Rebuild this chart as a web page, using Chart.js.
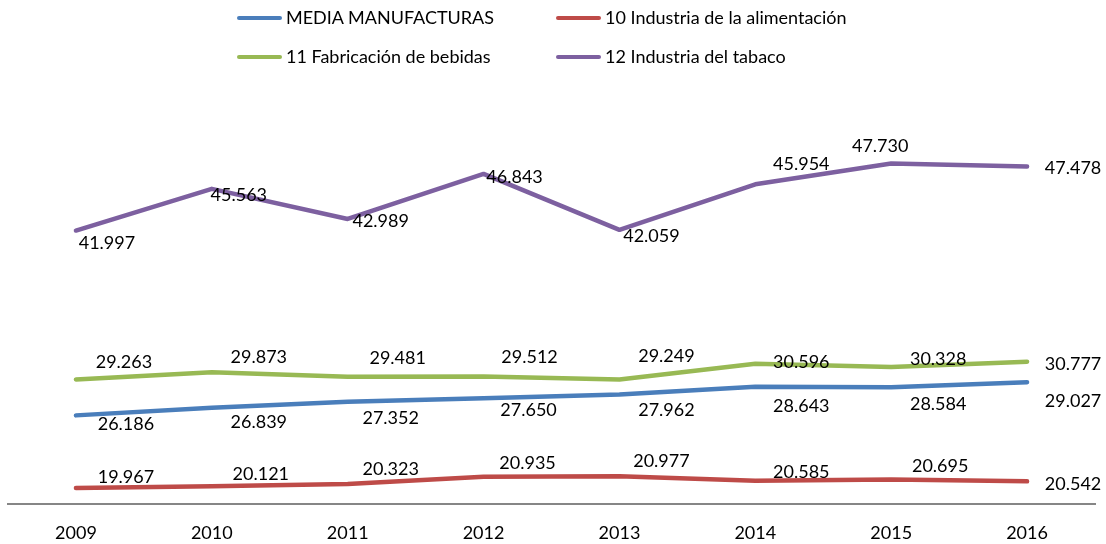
<!DOCTYPE html>
<html>
<head>
<meta charset="utf-8">
<script src="https://cdn.jsdelivr.net/npm/chart.js@4.4.0/dist/chart.umd.min.js"></script>
<style>
  html, body { margin: 0; padding: 0; background: #fff; }
  #wrap { position: relative; width: 1106px; height: 544px; font-family: Lato, "Open Sans", sans-serif; }
  #chart { position: absolute; left: 0; top: 0; }
  .leg { position: absolute; font-size: 18px; color: #000; white-space: nowrap; line-height: 20px; }
  .leg i { position: absolute; left: 0; top: 8px; width: 45px; height: 4px; border-radius: 2px; }
  .leg span { position: absolute; left: 49px; top: -1px; }
</style>
</head>
<body>
<div id="wrap">
  <canvas id="chart" width="1106" height="544"></canvas>
</div>
<script>
// --- data -------------------------------------------------------------------
var years = ['2009', '2010', '2011', '2012', '2013', '2014', '2015', '2016'];

var seriesNames = [
  'MEDIA MANUFACTURAS',
  '10 Industria de la alimentación',
  '11 Fabricación de bebidas',
  '12 Industria del tabaco'
];

var mediaManufacturas = [26186, 26839, 27352, 27650, 27962, 28643, 28584, 29027];
var alimentacion      = [19967, 20121, 20323, 20935, 20977, 20585, 20695, 20542];
var bebidas           = [29263, 29873, 29481, 29512, 29249, 30596, 30328, 30777];
var tabaco            = [41997, 45563, 42989, 46843, 42059, 45954, 47730, 47478];

// --- look -------------------------------------------------------------------
var colors = ['#4a7ebb', '#be4b48', '#98b954', '#7d60a0'];

// label centre offsets from each point [dx, dy], as placed in the original
var labelOffsets = [
  [[50, 9], [47, 14], [43, 16], [45, 12], [47, 16], [46, 20], [47, 17], [46, 19]],
  [[50, -11], [49, -12], [43, -15], [44, -14], [42, -15], [46, -9], [49, -13], [46, 3]],
  [[48, -17], [47, -15], [50, -19], [46, -19], [47, -23], [46, -2], [47, -8], [46, 2]],
  [[31, 13], [27, 6], [33, 2], [31, 3], [32, 6], [46, -20], [-11, -17], [46, 2]]
];

var FONT = 'Lato, "Open Sans", sans-serif';

function fmtThousands(v) {
  return String(v).replace(/\B(?=(\d{3})+(?!\d))/g, '.');
}

// html legend, two columns like the original
var legendPos = [[237, 8], [556, 8], [237, 47], [556, 47]];
var wrap = document.getElementById('wrap');
seriesNames.forEach(function (name, i) {
  var d = document.createElement('div');
  d.className = 'leg';
  d.style.left = legendPos[i][0] + 'px';
  d.style.top = legendPos[i][1] + 'px';
  d.innerHTML = '<i style="background:' + colors[i] + '"></i><span></span>';
  d.querySelector('span').textContent = name;
  wrap.appendChild(d);
});

var valueLabels = {
  id: 'valueLabels',
  afterDatasetsDraw: function (chart) {
    var ctx = chart.ctx;
    ctx.save();
    ctx.font = '18px ' + FONT;
    ctx.fillStyle = '#000';
    ctx.textAlign = 'center';
    ctx.textBaseline = 'middle';
    chart.data.datasets.forEach(function (ds, di) {
      chart.getDatasetMeta(di).data.forEach(function (pt, i) {
        var off = labelOffsets[di][i];
        ctx.fillText(fmtThousands(ds.data[i]), pt.x + off[0], pt.y + off[1]);
      });
    });
    ctx.restore();
  }
};

var allSeries = [mediaManufacturas, alimentacion, bebidas, tabaco];

new Chart(document.getElementById('chart'), {
  type: 'line',
  data: {
    labels: years,
    datasets: allSeries.map(function (vals, i) {
      return {
        label: seriesNames[i],
        data: vals,
        borderColor: colors[i],
        backgroundColor: colors[i],
        borderWidth: 4.5,
        borderCapStyle: 'round',
        borderJoinStyle: 'round',
        pointRadius: 0,
        tension: 0,
        fill: false
      };
    })
  },
  options: {
    responsive: false,
    animation: false,
    layout: { padding: { left: 8, right: 11, top: 137, bottom: 0 } },
    plugins: { legend: { display: false }, tooltip: { enabled: false } },
    scales: {
      x: {
        offset: true,
        grid: { display: false, drawTicks: false },
        border: { display: true, color: '#868686', width: 2 },
        ticks: { color: '#000', padding: 18, font: { family: FONT, size: 18 } },
        // labels stay where they are, the plot just reaches lower
        afterFit: function (scale) { scale.height -= 18; }
      },
      y: {
        display: false,
        min: 18570,
        max: 50000
      }
    }
  },
  plugins: [valueLabels]
});
</script>
</body>
</html>
